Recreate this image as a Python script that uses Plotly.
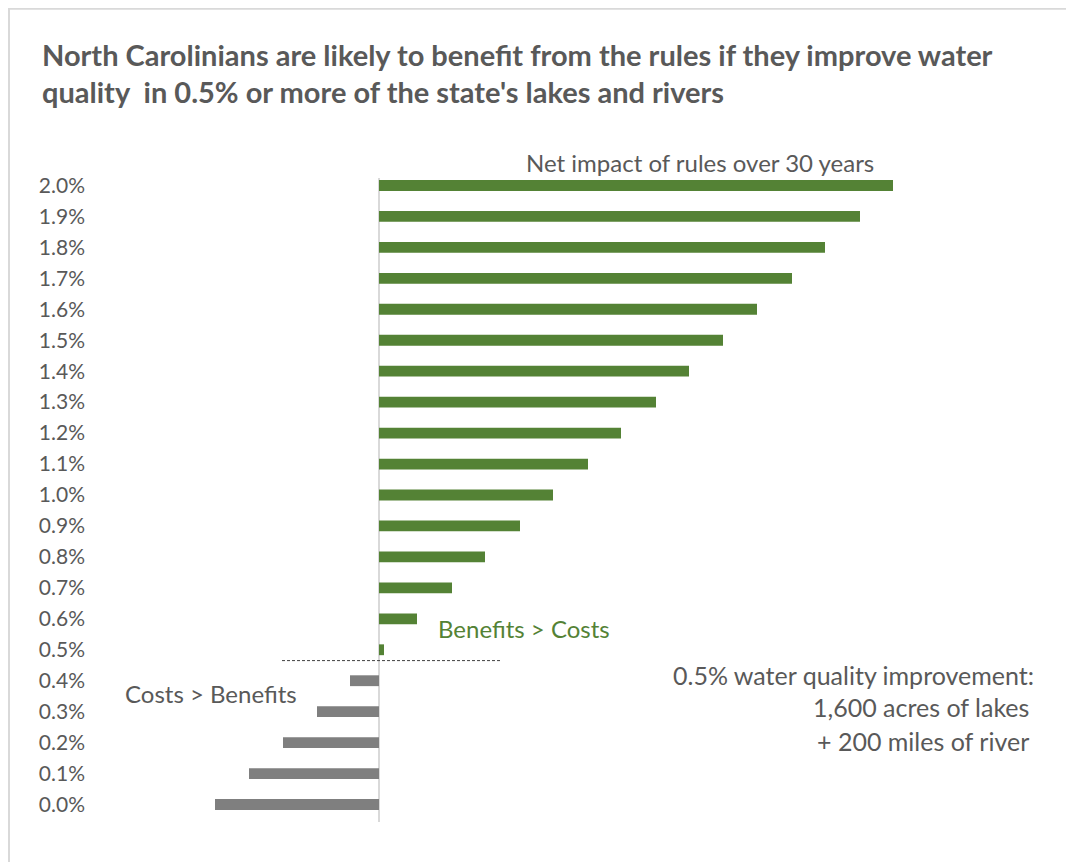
import plotly.graph_objects as go

# Data
categories = ["0.0%", "0.1%", "0.2%", "0.3%", "0.4%", "0.5%", "0.6%", "0.7%", "0.8%", "0.9%",
              "1.0%", "1.1%", "1.2%", "1.3%", "1.4%", "1.5%", "1.6%", "1.7%", "1.8%", "1.9%", "2.0%"]
net_impact = [-164, -130, -96, -62, -29, 5, 38, 73, 106, 141,
              174, 209, 242, 277, 310, 344, 378, 413, 446, 481, 514]

GREEN = "#548235"
GREY_BAR = "#7f7f7f"
TEXT = "#595959"
FONT = "Lato"

colors = [GREEN if v >= 0 else GREY_BAR for v in net_impact]

W, H = 1074, 862
OFF = 8  # page offset of the figure inside the window
L_WIN, T_WIN = 95, 170  # plot area top-left in window pixels
PW, PH = 945, 650
L, T = L_WIN - OFF, T_WIN - OFF
R = W - L - PW
B = H - T - PH


def px(x):
    return (x - L_WIN) / PW


def py(y):
    return (T_WIN + PH - y) / PH


fig = go.Figure()
fig.add_trace(go.Bar(
    x=net_impact, y=categories, orientation="h",
    marker=dict(color=colors, line=dict(width=0)),
    hoverinfo="x+y",
))

annotations = [
    dict(text="<b>North Carolinians are likely to benefit from the rules if they improve water</b>",
         x=px(40), y=py(55), xanchor="left", yanchor="middle", font=dict(size=29, color=TEXT)),
    dict(text="<b>quality  in 0.5% or more of the state's lakes and rivers</b>",
         x=px(40), y=py(92), xanchor="left", yanchor="middle", font=dict(size=29, color=TEXT)),
    dict(text="Net impact of rules over 30 years", x=px(524), y=py(163), xanchor="left",
         yanchor="middle", font=dict(size=24, color=TEXT)),
    dict(text="Benefits > Costs", x=px(436), y=py(628), xanchor="left", yanchor="middle",
         font=dict(size=24, color=GREEN)),
    dict(text="Costs > Benefits", x=px(123), y=py(693), xanchor="left", yanchor="middle",
         font=dict(size=24, color=TEXT)),
    dict(text="0.5% water quality improvement:", x=px(1036), y=py(675), xanchor="right",
         yanchor="middle", font=dict(size=25, color=TEXT)),
    dict(text="1,600 acres of lakes", x=px(1031), y=py(707), xanchor="right",
         yanchor="middle", font=dict(size=25, color=TEXT)),
    dict(text="+ 200 miles of river", x=px(1031), y=py(741), xanchor="right",
         yanchor="middle", font=dict(size=25, color=TEXT)),
]
for a in annotations:
    a.update(xref="paper", yref="paper", showarrow=False)

shapes = [
    # outer chart border (extends past the right and bottom of the view)
    dict(type="rect", xref="paper", yref="paper", x0=px(9), x1=px(1100), y0=py(890), y1=py(8.8),
         line=dict(color="#d9d9d9", width=2), fillcolor="rgba(0,0,0,0)", layer="below"),
    # zero line
    dict(type="line", xref="x", yref="paper", x0=0, x1=0, y0=py(822), y1=py(178),
         line=dict(color="#d9d9d9", width=2), layer="below"),
    # break-even dashed line
    dict(type="line", xref="x", yref="y", x0=-97, x1=123, y0=4.65, y1=4.65,
         line=dict(color="#404040", width=1, dash="3px,2px")),
]

fig.update_layout(
    width=W, height=H,
    margin=dict(l=L, r=R, t=T, b=B),
    paper_bgcolor="white", plot_bgcolor="white",
    font=dict(family=FONT, color=TEXT),
    bargap=0.65,
    showlegend=False,
    annotations=annotations,
    shapes=shapes,
    xaxis=dict(range=[-284, 661], showgrid=False, zeroline=False, showticklabels=False,
               showline=False, fixedrange=True),
    yaxis=dict(type="category", categoryorder="array", categoryarray=categories,
               range=[-0.5, 20.5], showgrid=False, zeroline=False, showline=False,
               ticks="", tickfont=dict(size=21, color=TEXT, family=FONT),
               ticklabelstandoff=9),
)

fig.write_html("out.html")
